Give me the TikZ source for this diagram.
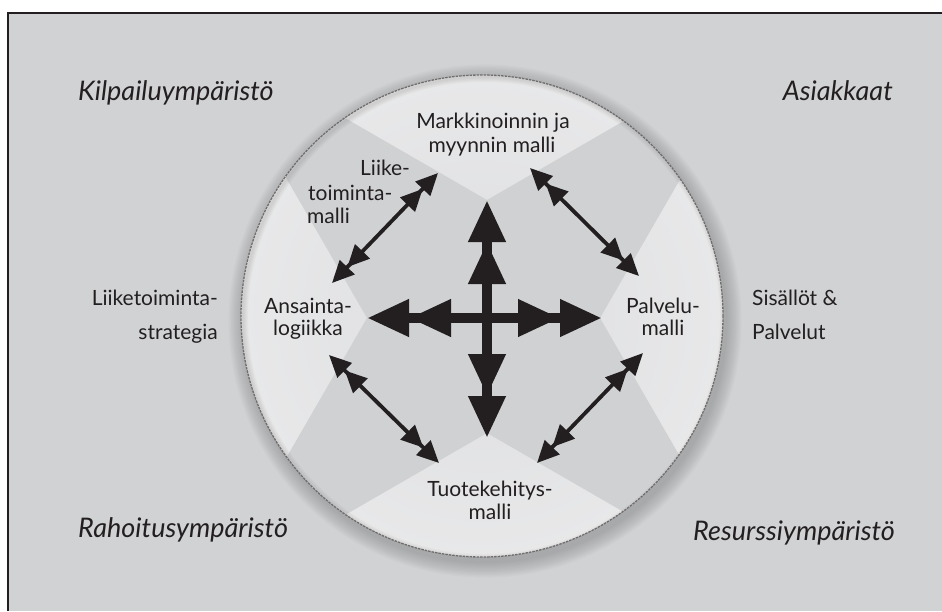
\documentclass[tikz,border=0pt]{standalone}
\usepackage{fontspec}
\setmainfont{Lato}
\usetikzlibrary{arrows.meta}
\definecolor{bg}{HTML}{D1D2D4}
\definecolor{ink}{HTML}{231F20}
\definecolor{band}{HTML}{D0D1D3}
\definecolor{wA}{HTML}{DDDEE0}
\definecolor{wB}{HTML}{EAEAEB}
\definecolor{wC}{HTML}{FAFAFA}
\definecolor{wD}{HTML}{E6E7E8}
\pgfdeclareradialshading{glass}{\pgfpoint{0bp}{0bp}}{color(0bp)=(wA); color(30bp)=(wB); color(46bp)=(wC); color(50bp)=(wD)}
\begin{document}
\begin{tikzpicture}[x=1pt,y=-1pt,
  lbl/.style={text=ink, inner sep=0pt, font=\fontsize{21}{25}\selectfont},
  env/.style={text=ink, inner sep=0pt, font=\fontsize{27}{32}\selectfont\itshape},
  bigarr/.style={draw=ink, fill=ink, line width=10pt,
     {Triangle[length=42pt,width=35pt,sep=0pt]Triangle[length=42pt,width=35pt,sep=0pt]}-{Triangle[length=42pt,width=35pt,sep=0pt]Triangle[length=42pt,width=35pt,sep=0pt]}},
  smallarr/.style={draw=ink, line width=3.8pt,
     {Triangle[length=22pt,width=20pt,sep=0pt]Triangle[length=22pt,width=20pt,sep=0pt]}-{Triangle[length=22pt,width=20pt,sep=0pt]Triangle[length=22pt,width=20pt,sep=0pt]}}
]
\useasboundingbox (0,0) rectangle (942,611);
\fill[white] (0,0) rectangle (942,611);
\fill[bg] (8,13) rectangle (942,611);
\draw[ink, line width=2.4pt] (8,611) -- (8,13) -- (942,13);

% shadow
\foreach \i in {1,...,12}
  \fill[black, opacity=0.016] (485,321) circle[radius=241pt+\i*1.3pt];

% glass disc
\path[shading=glass] (482,316) circle[radius=241pt];
\begin{scope}
  \clip (482,316) circle[radius=241pt];
  \fill[band] (487,200) -- (270.5,75) -- (242,101.5) -- (367,318) -- (242,534.5)
     -- (270.5,558) -- (487,433) -- (703.5,558) -- (725,534.5) -- (600,318)
     -- (725,101.5) -- (703.5,75) -- cycle;
  \foreach \i in {1,...,5}
    \draw[black, opacity=0.018, line width=\i*2pt] (484,318) circle[radius=241pt];
\end{scope}
\draw[ink!65, line width=1.3pt, dash pattern=on 2.5pt off 1pt] (482,316) circle[radius=241pt];

% labels inside
\node[lbl, anchor=base] (mk1) at (493,128) {Markkinoinnin ja};
\node[lbl, anchor=base] (mk2) at (492,152) {myynnin malli};
\node[lbl, anchor=base west] (lt1) at (360,175) {Liike-};
\node[lbl, anchor=base west] (lt2) at (308,200) {toiminta-};
\node[lbl, anchor=base west] (lt3) at (307,223) {malli};
\node[lbl, anchor=base] (an1) at (308,313) {Ansainta-};
\node[lbl, anchor=base] (an2) at (308,335) {logiikka};
\node[lbl, anchor=base] (pa1) at (663,313) {Palvelu-};
\node[lbl, anchor=base] (pa2) at (663,335) {malli};
\node[lbl, anchor=base] (tu1) at (490,496) {Tuotekehitys-};
\node[lbl, anchor=base] (tu2) at (490,519) {malli};

% labels outside
\node[lbl, anchor=base east] (ls1) at (218,305) {Liiketoiminta-};
\node[lbl, anchor=base east] (ls2) at (218,339) {strategia};
\node[lbl, anchor=base west] (sp1) at (752,305) {Sisällöt \&};
\node[lbl, anchor=base west] (sp2) at (752,339) {Palvelut};
\node[env, anchor=base west] (kil) at (78,100) {Kilpailuympäristö};
\node[env, anchor=base east] (asi) at (893,100) {Asiakkaat};
\node[env, anchor=base west] (rah) at (78,537) {Rahoitusympäristö};
\node[env, anchor=base east] (res) at (895,540) {Resurssiympäristö};

% arrow end points
\coordinate (cT) at (487,200);
\coordinate (cB) at (487,438);
\coordinate (cL) at (367,318);
\coordinate (cR) at (602,318);
\coordinate (d1a) at (438,173);
\coordinate (d1b) at (332,283);
\coordinate (d2a) at (530,168);
\coordinate (d2b) at (639,276);
\coordinate (d3a) at (329,355);
\coordinate (d3b) at (439,463);
\coordinate (d4a) at (643,353);
\coordinate (d4b) at (537,463);

\draw[bigarr] (cL) -- (cR);
\draw[bigarr] (cT) -- (cB);
\draw[smallarr] (d1a) -- (d1b);
\draw[smallarr] (d2a) -- (d2b);
\draw[smallarr] (d3a) -- (d3b);
\draw[smallarr] (d4a) -- (d4b);
\end{tikzpicture}
\end{document}
